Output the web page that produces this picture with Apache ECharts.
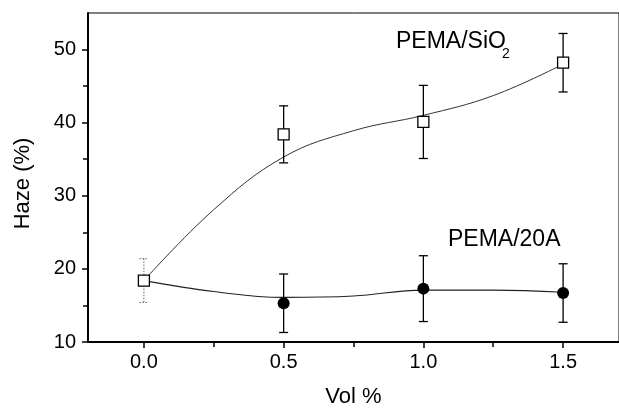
<!DOCTYPE html>
<html>
<head>
<meta charset="utf-8">
<script src="https://cdn.jsdelivr.net/npm/echarts@6/dist/echarts.min.js"></script>
<style>html,body{margin:0;padding:0;background:#fff}#c{width:619px;height:413px}</style>
</head>
<body>
<div id="c"></div>
<script>
// ---- data ----
const volX = [0.0, 0.5, 1.0, 1.5];
const sio2Haze = [18.4, 38.4, 40.1, 48.2];
const sio2Err = [3.0, 3.9, 5.0, 4.0];
const a20Haze = [18.4, 15.3, 17.3, 16.7];
const a20Err = [null, 4.0, 4.5, 4.0];
// smooth fit curves
const fitX = [0.0, 0.25, 0.5, 0.75, 1.0, 1.25, 1.5];
const sio2Fit = [18.4, 28.1, 35.3, 38.9, 41.0, 43.7, 48.0];
const a20Fit = [18.4, 16.9, 16.1, 16.3, 17.1, 17.1, 16.8];
// ticks
const xMajor = [0.0, 0.5, 1.0, 1.5];
const xMinor = [0.25, 0.75, 1.25];
const yMajor = [10, 20, 30, 40, 50];
const yMinor = [15, 25, 35, 45];

const FONT = '"Liberation Sans", Arial, sans-serif';
const chart = echarts.init(document.getElementById('c'), null, {renderer: 'canvas'});

function errData(xs, ys, es) {
  const out = [];
  xs.forEach((x, i) => { if (es[i] != null) out.push([x, ys[i] - es[i], ys[i] + es[i], i]); });
  return out;
}
function errRender(dotFirst) {
  return function (params, api) {
    const x = api.value(0), lo = api.value(1), hi = api.value(2), idx = api.value(3);
    const pt = api.coord([x, hi]), pb = api.coord([x, lo]);
    const w = 4.5;
    const dotted = dotFirst && idx === 0;
    const style = dotted ? {stroke: '#666', lineWidth: 1, lineDash: [1.5, 1.5]} : {stroke: '#000', lineWidth: 1.3};
    return {type: 'group', children: [
      {type: 'line', shape: {x1: pt[0], y1: pt[1], x2: pb[0], y2: pb[1]}, style: style},
      {type: 'line', shape: {x1: pt[0] - w, y1: pt[1], x2: pt[0] + w, y2: pt[1]}, style: style},
      {type: 'line', shape: {x1: pb[0] - w, y1: pb[1], x2: pb[0] + w, y2: pb[1]}, style: style}
    ]};
  };
}

const option = {
  animation: false,
  backgroundColor: '#fff',
  textStyle: {fontFamily: FONT},
  grid: {left: 88, top: 13, right: -3, bottom: 66, show: true, borderColor: '#000', borderWidth: 1, backgroundColor: 'transparent'},
  xAxis: [{
    type: 'value', min: -0.2, max: 1.7, position: 'bottom',
    axisLine: {onZero: false, lineStyle: {color: '#000', width: 2}},
    axisTick: {customValues: xMajor, length: 6, inside: false, lineStyle: {color: '#000', width: 1.5}},
    axisLabel: {customValues: xMajor, formatter: v => v.toFixed(1), fontSize: 20, color: '#000', margin: 10, fontFamily: FONT},
    splitLine: {show: false},
    name: 'Vol %', nameLocation: 'middle', nameGap: 44,
    nameTextStyle: {fontSize: 22, color: '#000', fontFamily: FONT}
  }, {
    type: 'value', min: -0.2, max: 1.7, position: 'bottom', offset: 0,
    axisLine: {show: false, onZero: false},
    axisTick: {customValues: xMinor, length: 5, inside: false, lineStyle: {color: '#000', width: 1.5}},
    axisLabel: {show: false}, splitLine: {show: false}
  }],
  yAxis: [{
    type: 'value', min: 10, max: 55, position: 'left',
    axisLine: {show: true, onZero: false, lineStyle: {color: '#000', width: 2}},
    axisTick: {show: true, customValues: yMajor, length: 6, inside: false, lineStyle: {color: '#000', width: 1.5}},
    axisLabel: {customValues: yMajor, fontSize: 20, color: '#000', margin: 12, fontFamily: FONT},
    splitLine: {show: false},
    name: 'Haze (%)', nameLocation: 'middle', nameGap: 54, nameRotate: 90,
    nameTextStyle: {fontSize: 22, color: '#000', fontFamily: FONT, padding: [0, 12, 0, 0]}
  }, {
    type: 'value', min: 10, max: 55, position: 'left', offset: 0,
    axisLine: {show: false, onZero: false},
    axisTick: {show: true, customValues: yMinor, length: 5, inside: false, lineStyle: {color: '#000', width: 1.5}},
    axisLabel: {show: false}, splitLine: {show: false}
  }],
  series: [
    {type: 'line', name: 'SiO2 fit', xAxisIndex: 0, yAxisIndex: 0, data: fitX.map((x, i) => [x, sio2Fit[i]]),
     smooth: 0.4, symbol: 'none', lineStyle: {color: '#333', width: 1}, z: 2},
    {type: 'line', name: '20A fit', xAxisIndex: 0, yAxisIndex: 0, data: fitX.map((x, i) => [x, a20Fit[i]]),
     smooth: 0.4, symbol: 'none', lineStyle: {color: '#222', width: 1.1}, z: 2},
    {type: 'custom', name: 'SiO2 err', xAxisIndex: 0, yAxisIndex: 0, data: errData(volX, sio2Haze, sio2Err),
     renderItem: errRender(true), encode: {x: 0, y: [1, 2]}, z: 3},
    {type: 'custom', name: '20A err', xAxisIndex: 0, yAxisIndex: 0, data: errData(volX, a20Haze, a20Err),
     renderItem: errRender(false), encode: {x: 0, y: [1, 2]}, z: 3},
    {type: 'scatter', name: 'PEMA/20A', xAxisIndex: 0, yAxisIndex: 0,
     data: volX.map((x, i) => i === 0 ? {value: [x, a20Haze[i]], symbol: 'none'} : [x, a20Haze[i]]),
     symbol: 'circle', symbolSize: 12, itemStyle: {color: '#000', opacity: 1}, z: 4},
    {type: 'scatter', name: 'PEMA/SiO2', xAxisIndex: 0, yAxisIndex: 0, data: volX.map((x, i) => [x, sio2Haze[i]]),
     symbol: 'rect', symbolSize: 11, itemStyle: {color: '#fff', borderColor: '#000', borderWidth: 1.3, opacity: 1}, z: 5}
  ],
  graphic: [
    {type: 'text', left: 396, top: 30, z: 10, style: {text: 'PEMA/SiO', font: '23px ' + FONT, fill: '#000'}},
    {type: 'text', left: 502, top: 47, z: 10, style: {text: '2', font: '14px ' + FONT, fill: '#000'}},
    {type: 'text', left: 448, top: 228, z: 10, style: {text: 'PEMA/20A', font: '23px ' + FONT, fill: '#000'}}
  ]
};
chart.setOption(option);
</script>
</body>
</html>
